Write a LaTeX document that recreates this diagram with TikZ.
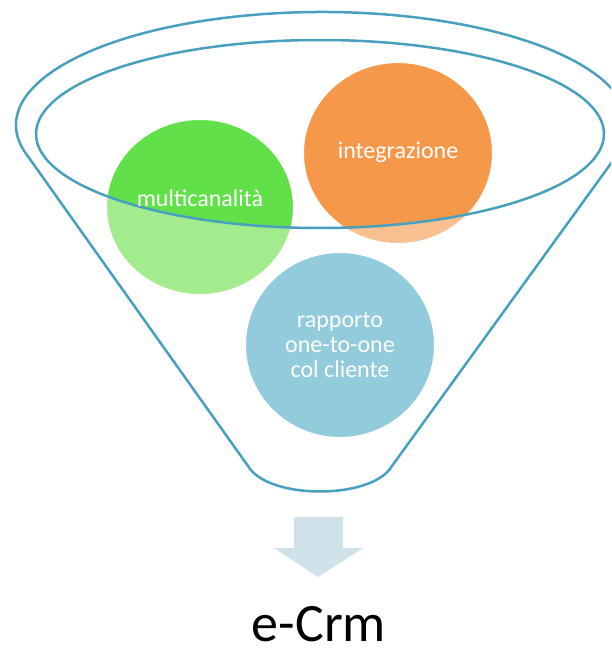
\documentclass[tikz,border=0pt]{standalone}
\usepackage{fontspec}
\setmainfont{Carlito}
\definecolor{funnelline}{RGB}{72,160,192}
\definecolor{greenfull}{RGB}{98,224,74}
\definecolor{greenpale}{RGB}{162,236,142}
\definecolor{orangefull}{RGB}{245,152,74}
\definecolor{orangepale}{RGB}{248,192,144}
\definecolor{bluefull}{RGB}{146,203,219}
\definecolor{arrowfill}{RGB}{207,226,234}
\tikzstyle{rim}=[draw=funnelline, line width=2.5pt, line join=round]
\tikzstyle{ring}=[draw=white, line width=2pt]
\tikzstyle{bubbletext}=[text=white, align=center, inner sep=0,
                        font=\fontsize{24}{25}\selectfont]

\begin{document}
\begin{tikzpicture}[x=1pt, y=-1pt]
    \useasboundingbox (0,0) rectangle (611,650);
    \clip (0,0) rectangle (611,650);
    % pale parts of the two upper bubbles, seen through the funnel
    \fill[greenpale]  (200,207) ellipse [x radius=94, y radius=88];
    \fill[orangepale] (398,153) ellipse [x radius=95, y radius=91];
    \begin{scope}
        \clip (320,134) ellipse [x radius=284, y radius=94];
        \fill[greenfull]  (200,207) ellipse [x radius=94, y radius=88];
        \fill[orangefull] (398,153) ellipse [x radius=95, y radius=91];
    \end{scope}
    \draw[ring] (200,207) ellipse [x radius=94, y radius=88];
    \draw[ring] (398,153) ellipse [x radius=95, y radius=91];
    \fill[bluefull] (340,345) ellipse [x radius=95, y radius=93];
    \draw[ring] (340,345) ellipse [x radius=95, y radius=93];
    % funnel
    \draw[rim] (322,125) ++(165:306 and 113) arc [start angle=165, end angle=375, x radius=306, y radius=113]
        -- (392,466) .. controls (372,500) and (268,500) .. (248,466) -- cycle;
    \draw[rim] (320,134) ellipse [x radius=284, y radius=94];
    % labels
    \node[bubbletext] (multi) at (200,198) {multicanalità};
    \node[bubbletext] (integ) at (398,152) {integrazione};
    \node[bubbletext] (rapp)  at (340,345) {rapporto\\one-to-one\\col cliente};
    % arrow and result
    \fill[arrowfill] (294,517) -- (343,517) -- (343,548) -- (363,548) -- (318,577)
        -- (274,548) -- (294,548) -- cycle;
    \node[anchor=base, inner sep=0, font=\fontsize{54}{60}\selectfont] (crm) at (319,641) {e-Crm};
\end{tikzpicture}
\end{document}
